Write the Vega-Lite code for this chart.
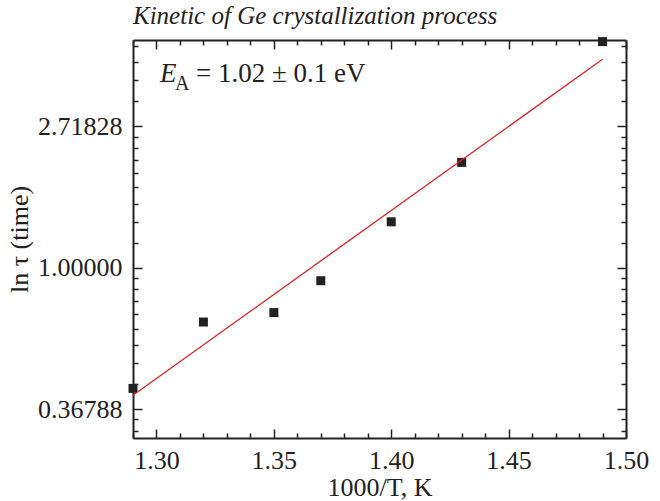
{
  "$schema": "https://vega.github.io/schema/vega-lite/v6.json",
  "width": 493,
  "height": 398,
  "autosize": {"type": "none"},
  "padding": {"left": 133, "top": 40, "right": 34, "bottom": 63},
  "background": "white",
  "config": {
    "view": {"stroke": null},
    "font": "Liberation Serif",
    "axis": {
      "grid": false,
      "labelFont": "Liberation Serif",
      "labelFontSize": 26,
      "labelColor": "#222222",
      "titleFont": "Liberation Serif",
      "titleFontSize": 26,
      "titleFontWeight": "normal",
      "titleColor": "#222222",
      "domainColor": "#222222",
      "domainWidth": 2,
      "tickColor": "#222222",
      "tickWidth": 1.5,
      "labelOverlap": false,
      "labelFlush": false
    }
  },
  "title": {
    "text": "Kinetic of Ge crystallization process",
    "anchor": "start",
    "frame": "group",
    "font": "Liberation Serif",
    "fontSize": 25,
    "fontStyle": "italic",
    "fontWeight": "normal",
    "color": "#222222",
    "baseline": "alphabetic",
    "offset": -16
  },
  "datasets": {
    "points": [
      {"x": 1.29, "y": 0.426},
      {"x": 1.32, "y": 0.681},
      {"x": 1.35, "y": 0.728},
      {"x": 1.37, "y": 0.912},
      {"x": 1.40, "y": 1.383},
      {"x": 1.43, "y": 2.105},
      {"x": 1.49, "y": 4.943}
    ],
    "fit": [
      {"x": 1.29, "y": 0.4057},
      {"x": 1.49, "y": 4.365}
    ]
  },
  "layer": [
    {
      "data": {"name": "points"},
      "mark": {"type": "square", "size": 81, "color": "#222222", "opacity": 1},
      "encoding": {
        "x": {
          "field": "x", "type": "quantitative",
          "scale": {"domain": [1.29, 1.50], "nice": false, "zero": false},
          "axis": {
            "orient": "bottom",
            "values": [1.29, 1.30, 1.31, 1.32, 1.33, 1.34, 1.35, 1.36, 1.37, 1.38, 1.39, 1.40, 1.41, 1.42, 1.43, 1.44, 1.45, 1.46, 1.47, 1.48, 1.49, 1.50],
            "labelExpr": "abs(datum.value*20 - round(datum.value*20)) < 0.01 ? format(datum.value, '.2f') : ''",
            "tickSize": {"condition": {"test": "abs(datum.value*20 - round(datum.value*20)) < 0.01", "value": -9}, "value": -5},
            "labelPadding": 18,
            "title": "1000/T, K",
            "titlePadding": -3
          }
        },
        "y": {
          "field": "y", "type": "quantitative",
          "scale": {"type": "log", "base": 2.718281828459045, "domain": [0.3, 5], "nice": false, "zero": false},
          "axis": {
            "orient": "left",
            "values": [0.316201, 0.342041, 0.36787944, 0.438115, 0.508351, 0.578587, 0.648823, 0.719059, 0.789295, 0.859531, 0.929766, 1, 1.190920, 1.381840, 1.572761, 1.763681, 1.954601, 2.145521, 2.336441, 2.527361, 2.71828183, 3.237257, 3.756232, 4.275207, 4.794182],
            "labelExpr": "abs(log(datum.value) - round(log(datum.value))) < 0.001 ? format(datum.value, '.5f') : ''",
            "tickSize": {"condition": {"test": "abs(log(datum.value) - round(log(datum.value))) < 0.001", "value": -9}, "value": -5},
            "labelPadding": 20,
            "title": "ln τ (time)",
            "titlePadding": 5
          }
        }
      }
    },
    {
      "data": {"name": "fit"},
      "mark": {"type": "line", "color": "#e41f26", "strokeWidth": 1.3},
      "encoding": {
        "x": {
          "field": "x", "type": "quantitative",
          "axis": {
            "orient": "top",
            "values": [1.29, 1.30, 1.31, 1.32, 1.33, 1.34, 1.35, 1.36, 1.37, 1.38, 1.39, 1.40, 1.41, 1.42, 1.43, 1.44, 1.45, 1.46, 1.47, 1.48, 1.49, 1.50],
            "labels": false,
            "title": null,
            "tickSize": {"condition": {"test": "abs(datum.value*20 - round(datum.value*20)) < 0.01", "value": -9}, "value": -5}
          }
        },
        "y": {
          "field": "y", "type": "quantitative",
          "axis": {
            "orient": "right",
            "values": [0.316201, 0.342041, 0.36787944, 0.438115, 0.508351, 0.578587, 0.648823, 0.719059, 0.789295, 0.859531, 0.929766, 1, 1.190920, 1.381840, 1.572761, 1.763681, 1.954601, 2.145521, 2.336441, 2.527361, 2.71828183, 3.237257, 3.756232, 4.275207, 4.794182],
            "labels": false,
            "title": null,
            "tickSize": {"condition": {"test": "abs(log(datum.value) - round(log(datum.value))) < 0.001", "value": -9}, "value": -5}
          }
        }
      }
    },
    {
      "data": {"values": [{"t": "E"}]},
      "mark": {"type": "text", "font": "Liberation Serif", "fontSize": 27, "fontStyle": "italic", "color": "#222222", "align": "left", "baseline": "alphabetic"},
      "encoding": {
        "x": {"datum": 1.3015, "type": "quantitative", "axis": null},
        "y": {"datum": 3.717, "type": "quantitative", "axis": null},
        "text": {"field": "t"}
      }
    },
    {
      "data": {"values": [{"t": "A"}]},
      "mark": {"type": "text", "font": "Liberation Serif", "fontSize": 20, "color": "#222222", "align": "left", "baseline": "alphabetic", "dx": 15, "dy": 8},
      "encoding": {
        "x": {"datum": 1.3015, "type": "quantitative", "axis": null},
        "y": {"datum": 3.717, "type": "quantitative", "axis": null},
        "text": {"field": "t"}
      }
    },
    {
      "data": {"values": [{"t": "= 1.02 ± 0.1 eV"}]},
      "mark": {"type": "text", "font": "Liberation Serif", "fontSize": 27, "color": "#222222", "align": "left", "baseline": "alphabetic", "dx": 36},
      "encoding": {
        "x": {"datum": 1.3015, "type": "quantitative", "axis": null},
        "y": {"datum": 3.717, "type": "quantitative", "axis": null},
        "text": {"field": "t"}
      }
    }
  ],
  "resolve": {"axis": {"x": "independent", "y": "independent"}}
}
